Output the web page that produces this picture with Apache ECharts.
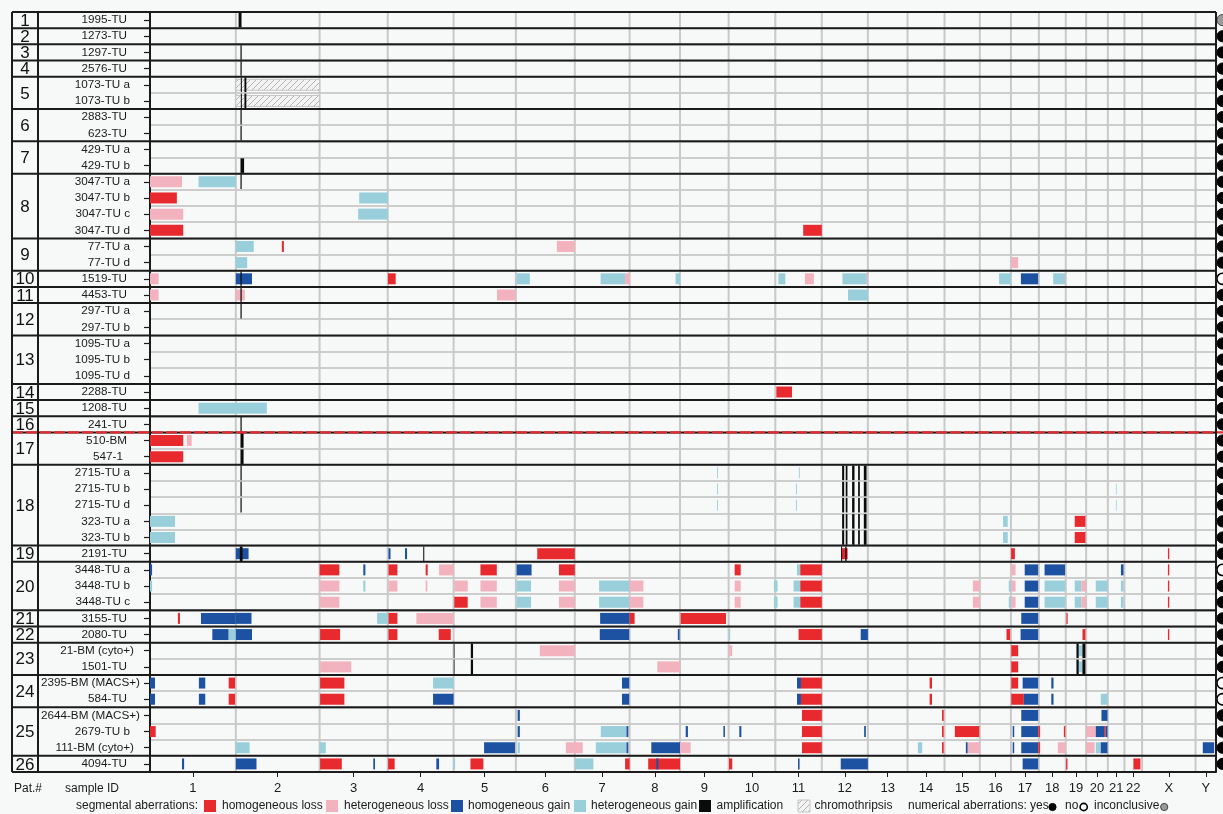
<!DOCTYPE html>
<html>
<head>
<meta charset="utf-8">
<script src="https://cdn.jsdelivr.net/npm/echarts@6/dist/echarts.min.js"></script>
<style>
  html, body { margin: 0; padding: 0; background: #f7f8f8; }
  #chart { width: 1223px; height: 814px; }
</style>
</head>
<body>
<div id="chart"></div>
<script>
// Chromosomes (hg19 lengths, Mb)
const chromNames = ['1','2','3','4','5','6','7','8','9','10','11','12','13','14','15','16','17','18','19','20','21','22','X','Y'];
const chromLengths = [249.25,243.20,198.02,191.15,180.92,171.12,159.14,146.36,141.21,135.53,135.01,133.85,115.17,107.35,102.53,90.35,81.20,78.08,59.13,63.03,48.13,51.30,155.27,59.37];

// Samples, top to bottom
const sampleIds = [
  '1995-TU','1273-TU','1297-TU','2576-TU','1073-TU a','1073-TU b','2883-TU','623-TU','429-TU a','429-TU b',
  '3047-TU a','3047-TU b','3047-TU c','3047-TU d','77-TU a','77-TU d','1519-TU','4453-TU','297-TU a','297-TU b',
  '1095-TU a','1095-TU b','1095-TU d','2288-TU','1208-TU','241-TU','510-BM','547-1',
  '2715-TU a','2715-TU b','2715-TU d','323-TU a','323-TU b','2191-TU','3448-TU a','3448-TU b','3448-TU c',
  '3155-TU','2080-TU','21-BM (cyto+)','1501-TU','2395-BM (MACS+)','584-TU','2644-BM (MACS+)','2679-TU b','111-BM (cyto+)','4094-TU'
];

// Number of samples per patient (patients 1..26)
const patientSampleCounts = [1,1,1,1,2,2,2,4,2,1,1,2,3,1,1,1,2,5,1,3,1,1,2,2,3,1];
// Red divider drawn above this patient
const dividerPatient = 17;

// Numerical aberrations: y = yes, n = no, i = inconclusive (samples not listed: yes)
const numericalStatus = {
  '1995-TU':'i', '1519-TU':'n', '3448-TU a':'n', '2395-BM (MACS+)':'n', '584-TU':'n'
};

// Segmental aberrations: [sample, chromosome, start Mb, end Mb, type]
// L homogeneous loss, l heterogeneous loss, G homogeneous gain, g heterogeneous gain, A amplification, C chromothripsis
const segments = [
  ['1995-TU','2',8,16.5,'A'],
  ['1297-TU','2',13.5,17,'A'],
  ['2576-TU','2',13.5,17,'A'],
  ['1073-TU a','2',0,243.2,'C'], ['1073-TU a','2',14.5,17.5,'A'], ['1073-TU a','2',25,30.5,'A'],
  ['1073-TU b','2',0,243.2,'C'], ['1073-TU b','2',14.5,17.5,'A'], ['1073-TU b','2',25,30.5,'A'],
  ['2883-TU','2',13.5,17,'A'],
  ['623-TU','2',13.5,17,'A'],
  ['429-TU b','2',13.5,24,'A'],

  ['3047-TU a','1',0,93,'l'], ['3047-TU a','1',141,249.25,'g'], ['3047-TU a','2',13.5,17,'A'],
  ['3047-TU b','1',0,78,'L'], ['3047-TU b','3',115,198.02,'g'],
  ['3047-TU c','1',0,96.5,'l'], ['3047-TU c','3',112,198.02,'g'],
  ['3047-TU d','1',0,96.5,'L'], ['3047-TU d','11',81,135.01,'L'],

  ['77-TU a','2',0,52,'g'], ['77-TU a','2',133.5,139.5,'L'], ['77-TU a','6',119,171.12,'l'],
  ['77-TU d','2',0,33,'g'], ['77-TU d','17',2,21,'l'],

  ['1519-TU','1',0,25,'l'], ['1519-TU','2',0,47,'G'], ['1519-TU','2',13.5,17,'A'], ['1519-TU','4',0.5,23,'L'],
  ['1519-TU','6',2,40.5,'g'], ['1519-TU','7',75,146,'g'], ['1519-TU','7',146,159.14,'l'], ['1519-TU','8',133.5,146.36,'g'],
  ['1519-TU','11',9,29,'g'], ['1519-TU','11',86,112,'l'], ['1519-TU','12',60,131,'g'], ['1519-TU','12',131,133.85,'l'],
  ['1519-TU','16',56,90.35,'g'], ['1519-TU','17',29,79,'G'], ['1519-TU','18',41.5,76.5,'g'], ['1519-TU','18',76.5,78.08,'l'],

  ['4453-TU','1',0,25,'l'], ['4453-TU','2',0,26,'l'], ['4453-TU','2',13.5,17,'A'], ['4453-TU','5',126,179,'l'],
  ['4453-TU','12',76,133.85,'g'],

  ['297-TU a','2',13.5,17,'A'],
  ['2288-TU','11',3,48.5,'L'],
  ['1208-TU','1',141,249.25,'g'], ['1208-TU','2',0,90,'g'],
  ['241-TU','2',13.5,17,'A'],

  ['510-BM','1',0,96.5,'L'], ['510-BM','1',107,121,'l'], ['510-BM','2',13.5,22.5,'A'],
  ['547-1','1',0,96.5,'L'], ['547-1','2',13.5,22.5,'A'],

  ['2715-TU a','2',13.5,17,'A'], ['2715-TU a','9',107.5,110,'g'], ['2715-TU a','11',68.5,71,'g'],
  ['2715-TU a','12',59,65,'A'], ['2715-TU a','12',69.5,74.5,'A'], ['2715-TU a','12',88,95,'A'], ['2715-TU a','12',105.5,110.5,'A'], ['2715-TU a','12',122,130,'A'],
  ['2715-TU b','2',13.5,17,'A'], ['2715-TU b','9',107.5,110,'g'], ['2715-TU b','11',60,62.5,'g'], ['2715-TU b','21',23.5,25.5,'g'],
  ['2715-TU b','12',59,65,'A'], ['2715-TU b','12',69.5,74.5,'A'], ['2715-TU b','12',88,95,'A'], ['2715-TU b','12',105.5,110.5,'A'], ['2715-TU b','12',122,130,'A'],
  ['2715-TU d','2',13.5,17,'A'], ['2715-TU d','9',107.5,110,'g'], ['2715-TU d','11',60,62.5,'g'], ['2715-TU d','21',23.5,25.5,'g'],
  ['2715-TU d','12',59,65,'A'], ['2715-TU d','12',69.5,74.5,'A'], ['2715-TU d','12',88,95,'A'], ['2715-TU d','12',105.5,110.5,'A'], ['2715-TU d','12',122,130,'A'],
  ['323-TU a','1',0,72.5,'g'], ['323-TU a','16',67.5,81,'g'], ['323-TU a','19',26,57,'L'],
  ['323-TU a','12',59,65,'A'], ['323-TU a','12',69.5,74.5,'A'], ['323-TU a','12',88,95,'A'], ['323-TU a','12',105.5,110.5,'A'], ['323-TU a','12',122,130,'A'],
  ['323-TU b','1',0,72.5,'g'], ['323-TU b','16',67.5,81,'g'], ['323-TU b','19',26,57,'L'],
  ['323-TU b','12',59,65,'A'], ['323-TU b','12',69.5,74.5,'A'], ['323-TU b','12',88,95,'A'], ['323-TU b','12',105.5,110.5,'A'], ['323-TU b','12',122,130,'A'],

  ['2191-TU','2',0,37,'G'], ['2191-TU','2',11.5,19.5,'A'], ['2191-TU','4',2,8,'G'], ['2191-TU','4',50,56,'G'],
  ['2191-TU','4',103,106,'A'], ['2191-TU','6',62,171.12,'L'], ['2191-TU','12',57,75,'L'],
  ['2191-TU','12',56,59,'A'], ['2191-TU','12',68,72,'A'], ['2191-TU','17',0.5,11.5,'L'], ['2191-TU','X',75,79,'L'],

  ['3448-TU a','1',0,6,'G'], ['3448-TU a','3',0,57.5,'L'], ['3448-TU a','3',127,133,'G'], ['3448-TU a','4',2,28,'L'],
  ['3448-TU a','4',110,116,'L'], ['3448-TU a','4',149,191.15,'l'], ['3448-TU a','5',78,125.5,'L'], ['3448-TU a','6',2,45.5,'G'],
  ['3448-TU a','6',125,171.12,'L'], ['3448-TU a','10',17.5,35,'L'], ['3448-TU a','11',63,72.5,'g'], ['3448-TU a','11',72.5,135.01,'L'],
  ['3448-TU a','17',1,13.5,'l'], ['3448-TU a','17',40,79,'G'], ['3448-TU a','18',16.5,76,'G'], ['3448-TU a','21',38,45.5,'G'],
  ['3448-TU a','X',75,79,'L'],

  ['3448-TU b','1',0,6,'g'], ['3448-TU b','3',0,57.5,'l'], ['3448-TU b','3',127,133,'g'], ['3448-TU b','4',2,28,'l'],
  ['3448-TU b','4',110,115,'l'], ['3448-TU b','5',2,41,'l'], ['3448-TU b','5',78,125.5,'l'], ['3448-TU b','6',2,44,'g'],
  ['3448-TU b','6',125,171.12,'l'], ['3448-TU b','7',70.5,159.14,'g'], ['3448-TU b','8',0,40,'l'], ['3448-TU b','10',17.5,35,'l'],
  ['3448-TU b','10',131.5,135.53,'g'], ['3448-TU b','11',0,6.5,'g'], ['3448-TU b','11',53,72.5,'g'], ['3448-TU b','11',72.5,135.01,'L'],
  ['3448-TU b','15',82.5,102.53,'l'], ['3448-TU b','16',84,90.35,'g'], ['3448-TU b','17',1,13.5,'l'], ['3448-TU b','17',40,79,'G'],
  ['3448-TU b','18',16.5,76,'g'], ['3448-TU b','19',26,45.5,'g'], ['3448-TU b','19',45.5,59.13,'l'], ['3448-TU b','20',28,62,'g'],
  ['3448-TU b','21',38,45.5,'g'], ['3448-TU b','X',75,79,'L'],

  ['3448-TU c','3',0,57.5,'l'], ['3448-TU c','5',2,41,'L'], ['3448-TU c','5',78,125.5,'l'], ['3448-TU c','6',2,44,'g'],
  ['3448-TU c','6',125,171.12,'l'], ['3448-TU c','7',70.5,159.14,'g'], ['3448-TU c','8',0,40,'l'], ['3448-TU c','10',17.5,35,'l'],
  ['3448-TU c','10',131.5,135.53,'g'], ['3448-TU c','11',0,6.5,'g'], ['3448-TU c','11',53,72.5,'g'], ['3448-TU c','11',72.5,135.01,'L'],
  ['3448-TU c','15',82.5,102.53,'l'], ['3448-TU c','16',84,90.35,'g'], ['3448-TU c','17',1,13.5,'l'], ['3448-TU c','17',40,79,'G'],
  ['3448-TU c','18',16.5,76,'g'], ['3448-TU c','19',26,45.5,'g'], ['3448-TU c','19',45.5,59.13,'l'], ['3448-TU c','20',28,62,'g'],
  ['3448-TU c','21',38,45.5,'g'], ['3448-TU c','X',75,79,'L'],

  ['3155-TU','1',81,87,'L'], ['3155-TU','1',148,249.25,'G'], ['3155-TU','2',0,45.5,'G'], ['3155-TU','3',167,198.02,'g'],
  ['3155-TU','4',2,28,'L'], ['3155-TU','4',83,191.15,'l'], ['3155-TU','7',73.5,159.14,'G'], ['3155-TU','8',0,14.5,'L'],
  ['3155-TU','9',2,133.5,'L'], ['3155-TU','17',30,79,'G'], ['3155-TU','19',2,5.5,'L'],

  ['2080-TU','1',181,228.5,'G'], ['2080-TU','1',228.5,249.25,'g'], ['2080-TU','2',0,47,'G'], ['2080-TU','3',1.5,59.5,'L'],
  ['2080-TU','4',2,28,'L'], ['2080-TU','4',148,183,'L'], ['2080-TU','7',72.5,158,'G'], ['2080-TU','8',140,145,'G'],
  ['2080-TU','10',1,4.5,'g'], ['2080-TU','11',67.5,135.01,'L'], ['2080-TU','12',113,133.85,'G'], ['2080-TU','16',77.5,88,'L'],
  ['2080-TU','17',28,79,'G'], ['2080-TU','19',48.5,57,'L'], ['2080-TU','X',75,79,'L'],

  ['21-BM (cyto+)','5',0.5,2.5,'A'], ['21-BM (cyto+)','5',50,56.5,'A'], ['21-BM (cyto+)','6',69.5,171.12,'l'],
  ['21-BM (cyto+)','10',1,10.5,'l'], ['21-BM (cyto+)','17',1,21,'L'], ['21-BM (cyto+)','19',37.5,48.3,'g'],
  ['21-BM (cyto+)','19',31,37.5,'A'], ['21-BM (cyto+)','19',48.3,57,'A'],
  ['1501-TU','5',0.5,2.5,'A'], ['1501-TU','5',50,56.5,'A'], ['1501-TU','3',1.5,92,'l'], ['1501-TU','8',80.5,146.36,'l'],
  ['1501-TU','17',1,21,'L'], ['1501-TU','19',37.5,48.3,'g'], ['1501-TU','19',31,37.5,'A'], ['1501-TU','19',48.3,57,'A'],

  ['2395-BM (MACS+)','1',0,14.5,'G'], ['2395-BM (MACS+)','1',142,160.5,'G'], ['2395-BM (MACS+)','1',228.5,247,'L'],
  ['2395-BM (MACS+)','3',1.5,72,'L'], ['2395-BM (MACS+)','4',131.5,191.15,'g'], ['2395-BM (MACS+)','7',137,158,'G'],
  ['2395-BM (MACS+)','11',63,74.5,'G'], ['2395-BM (MACS+)','11',74.5,135.01,'L'], ['2395-BM (MACS+)','14',64,71,'L'],
  ['2395-BM (MACS+)','17',1,21,'L'], ['2395-BM (MACS+)','17',34,79,'G'], ['2395-BM (MACS+)','18',36,42.5,'G'],
  ['584-TU','1',0,14.5,'G'], ['584-TU','1',142,160.5,'G'], ['584-TU','1',228.5,247,'L'], ['584-TU','3',1.5,72,'L'],
  ['584-TU','4',131.5,191.15,'G'], ['584-TU','7',137,158,'G'], ['584-TU','11',63,74.5,'G'], ['584-TU','11',74.5,135.01,'L'],
  ['584-TU','14',64,71,'L'], ['584-TU','17',1,37.5,'L'], ['584-TU','17',37.5,79,'G'], ['584-TU','18',36,42.5,'G'],
  ['584-TU','20',42.5,62,'g'],

  ['2644-BM (MACS+)','6',5,11.5,'G'], ['2644-BM (MACS+)','11',77.5,135.01,'L'], ['2644-BM (MACS+)','14',100,105,'L'],
  ['2644-BM (MACS+)','17',30,79,'G'], ['2644-BM (MACS+)','20',44.5,62,'G'],
  ['2679-TU b','1',0,16.5,'L'], ['2679-TU b','6',5,11.5,'G'], ['2679-TU b','7',75.5,150,'g'], ['2679-TU b','7',150,155.5,'G'],
  ['2679-TU b','9',16.5,23,'G'], ['2679-TU b','9',126,130.5,'G'], ['2679-TU b','10',31,37,'G'], ['2679-TU b','11',77.5,135.01,'L'],
  ['2679-TU b','12',123,128,'G'], ['2679-TU b','14',100,105,'L'], ['2679-TU b','15',30,101,'L'], ['2679-TU b','17',5,9.5,'G'],
  ['2679-TU b','17',30,79,'G'], ['2679-TU b','17',79.5,81.2,'L'], ['2679-TU b','18',0,3.5,'L'], ['2679-TU b','18',72.5,76.5,'L'],
  ['2679-TU b','20',0,28,'l'], ['2679-TU b','20',28,52,'G'], ['2679-TU b','20',52,56,'L'], ['2679-TU b','20',56,62,'G'],
  ['111-BM (cyto+)','2',0,40,'g'], ['111-BM (cyto+)','3',0.5,18,'g'], ['111-BM (cyto+)','5',88.5,178.5,'G'], ['111-BM (cyto+)','6',5,11.5,'g'],
  ['111-BM (cyto+)','6',145,171.12,'l'], ['111-BM (cyto+)','7',0,23,'l'], ['111-BM (cyto+)','7',61,150,'g'], ['111-BM (cyto+)','7',150,155.5,'G'],
  ['111-BM (cyto+)','8',63,146.36,'G'], ['111-BM (cyto+)','9',0,31,'l'], ['111-BM (cyto+)','11',77.5,135.01,'L'], ['111-BM (cyto+)','14',30,42.5,'g'],
  ['111-BM (cyto+)','14',100,105,'L'], ['111-BM (cyto+)','15',62,67.5,'G'], ['111-BM (cyto+)','15',67.5,102.53,'l'], ['111-BM (cyto+)','17',5,9.5,'G'],
  ['111-BM (cyto+)','17',30,79,'G'], ['111-BM (cyto+)','17',79.5,81.2,'L'], ['111-BM (cyto+)','18',0,3.5,'L'], ['111-BM (cyto+)','18',55,76.5,'l'],
  ['111-BM (cyto+)','20',0,24.5,'l'], ['111-BM (cyto+)','20',28,42.5,'g'], ['111-BM (cyto+)','20',42.5,62,'G'], ['111-BM (cyto+)','Y',21,54,'G'],

  ['4094-TU','1',93,99,'G'], ['4094-TU','2',0,60,'G'], ['4094-TU','3',1.5,64.5,'L'], ['4094-TU','3',156,161,'G'],
  ['4094-TU','4',1,20,'L'], ['4094-TU','4',141,149,'G'], ['4094-TU','5',0,4.5,'g'], ['4094-TU','5',49,86.5,'L'],
  ['4094-TU','7',1,54,'g'], ['4094-TU','7',146,159.14,'L'], ['4094-TU','8',54,146.36,'L'], ['4094-TU','8',77.5,83.5,'G'],
  ['4094-TU','10',1,10.5,'L'], ['4094-TU','11',66,70.5,'G'], ['4094-TU','12',55,133.85,'G'], ['4094-TU','17',34,79,'G'],
  ['4094-TU','19',1,5,'L'], ['4094-TU','22',26,46.5,'L']
];

// ---------- derived structures ----------
const FONT = '"Liberation Sans", Arial, Helvetica, sans-serif';
const COLORS = { L: '#e8292d', l: '#f2b3bf', G: '#1d52a3', g: '#98cfdb', A: '#0b0b0b' };

const chromStart = {};
let genomeLength = 0;
chromNames.forEach((c, i) => { chromStart[c] = genomeLength; genomeLength += chromLengths[i]; });
const chromCenters = chromNames.map((c, i) => chromStart[c] + chromLengths[i] / 2);
const chromBoundaries = chromNames.slice(1).map(c => [chromStart[c], 0]);

const drawOrder = { C: 0, L: 1, l: 1, G: 1, g: 1, A: 2 };
const segRecords = segments
  .map((s, i) => ({ s, i }))
  .sort((a, b) => (drawOrder[a.s[4]] - drawOrder[b.s[4]]) || (a.i - b.i))
  .map(({ s }) => ({
    type: s[4],
    value: [chromStart[s[1]] + s[2], chromStart[s[1]] + s[3], sampleIds.indexOf(s[0])]
  }));

const patientGroups = [];
{
  let row = 0;
  patientSampleCounts.forEach((n, i) => {
    patientGroups.push([row, row + n - 1, i + 1]);
    row += n;
  });
}

const statusCode = { y: 0, n: 1, i: 2 };
const numericalData = sampleIds.map((id, i) => [0, i, statusCode[numericalStatus[id] || 'y']]);
const statusStyle = [
  { fill: '#000', stroke: '#000', lineWidth: 1 },
  { fill: '#fff', stroke: '#000', lineWidth: 1.6 },
  { fill: '#9a9a9a', stroke: '#444', lineWidth: 1 }
];

function hatchCanvas() {
  const c = document.createElement('canvas');
  c.width = 6; c.height = 6;
  const g = c.getContext('2d');
  g.fillStyle = '#f3f3f3'; g.fillRect(0, 0, 6, 6);
  g.strokeStyle = '#b4b4b4'; g.lineWidth = 1;
  g.beginPath();
  g.moveTo(0, 6); g.lineTo(6, 0);
  g.moveTo(-1, 1); g.lineTo(1, -1);
  g.moveTo(5, 7); g.lineTo(7, 5);
  g.stroke();
  return c;
}
const hatchFill = { type: 'pattern', image: hatchCanvas(), repeat: 'repeat' };

function labelPad(id) {
  if (/MACS/.test(id)) return 0;
  if (/cyto/.test(id)) return 6;
  if (/ [a-d]$/.test(id)) return 10;
  if (id === '547-1') return 17;
  return 13;
}
const padRich = {};
[0, 6, 10, 13, 17].forEach(p => {
  padRich['p' + p] = { padding: [0, p, 0, 0], fontSize: 11.7, fontFamily: FONT, color: '#1a1a1a' };
});

// ---------- chart ----------
const GRID = { left: 150, top: 12, right: 7, bottom: 42 };
const chart = echarts.init(document.getElementById('chart'), null, { renderer: 'canvas' });

const legendY = 806;
const legendBoxes = [
  { x: 204, fill: COLORS.L }, { x: 326, fill: COLORS.l }, { x: 451, fill: COLORS.G },
  { x: 574, fill: COLORS.g }, { x: 699, fill: COLORS.A }, { x: 798, fill: hatchFill, stroke: '#c4c4c4' }
];
const legendTexts = [
  { x: 76, t: 'segmental aberrations:' }, { x: 222, t: 'homogeneous loss' }, { x: 344, t: 'heterogeneous loss' },
  { x: 468, t: 'homogeneous gain' }, { x: 591, t: 'heterogeneous gain' }, { x: 716.5, t: 'amplification' },
  { x: 814.5, t: 'chromothripsis' }, { x: 908, t: 'numerical aberrations: yes' }, { x: 1065, t: 'no' },
  { x: 1094, t: 'inconclusive' }
];
const legendDots = [
  { x: 1052.5, s: statusStyle[0] },
  { x: 1083.7, s: statusStyle[1] },
  { x: 1164.2, s: statusStyle[2] }
];

const graphics = [
  { type: 'line', z: 100, shape: { x1: 12, y1: 12, x2: 12, y2: 772 }, style: { stroke: '#1b1b1b', lineWidth: 2 } },
  { type: 'line', z: 100, shape: { x1: 38, y1: 12, x2: 38, y2: 772 }, style: { stroke: '#1b1b1b', lineWidth: 2 } },
  { type: 'line', z: 100, shape: { x1: 1216, y1: 12, x2: 1216, y2: 772 }, style: { stroke: '#1b1b1b', lineWidth: 2 } },
  { type: 'text', z: 100, style: { text: 'Pat.#', x: 14, y: 789, font: '12px ' + FONT, fill: '#1a1a1a', verticalAlign: 'middle' } },
  { type: 'text', z: 100, style: { text: 'sample ID', x: 65, y: 789, font: '12px ' + FONT, fill: '#1a1a1a', verticalAlign: 'middle' } }
];
legendBoxes.forEach(b => graphics.push({
  type: 'rect', z: 100, shape: { x: b.x, y: legendY - 6, width: 12, height: 12 },
  style: { fill: b.fill, stroke: b.stroke || null, lineWidth: 1 }
}));
legendTexts.forEach(t => graphics.push({
  type: 'text', z: 100, style: { text: t.t, x: t.x, y: legendY, font: '12px ' + FONT, fill: '#1a1a1a', verticalAlign: 'middle' }
}));
legendDots.forEach(d => graphics.push({
  type: 'circle', z: 100, shape: { cx: d.x, cy: legendY + 1, r: 3.6 },
  style: Object.assign({}, d.s)
}));

chart.setOption({
  animation: false,
  backgroundColor: '#f7f8f8',
  grid: { left: GRID.left, top: GRID.top, right: GRID.right, bottom: GRID.bottom, show: false },
  xAxis: {
    type: 'value', min: 0, max: genomeLength,
    splitLine: { show: false },
    axisLine: { show: true, onZero: false, lineStyle: { color: '#1b1b1b', width: 2 } },
    axisTick: { show: true, customValues: chromCenters, length: 5, lineStyle: { color: '#1b1b1b', width: 1 } },
    axisLabel: {
      show: true, customValues: chromCenters, margin: 10, fontSize: 13, fontFamily: FONT, color: '#1a1a1a',
      formatter: v => {
        let best = 0;
        chromCenters.forEach((c, i) => { if (Math.abs(c - v) < Math.abs(chromCenters[best] - v)) best = i; });
        return chromNames[best];
      }
    }
  },
  yAxis: {
    type: 'category', data: sampleIds, inverse: true,
    axisLine: { show: true, lineStyle: { color: '#1b1b1b', width: 2 } },
    axisTick: { show: true, alignWithLabel: true, interval: 0, length: 6, lineStyle: { color: '#1b1b1b', width: 1.2 } },
    axisLabel: {
      interval: 0, margin: 10,
      formatter: v => '{p' + labelPad(v) + '|' + v + '}',
      rich: padRich
    },
    splitLine: { show: true, interval: 0, lineStyle: { color: '#cdcdcd', width: 2 } }
  },
  graphic: graphics,
  series: [
    {
      // chromosome boundaries
      type: 'custom', silent: true, z: 1,
      data: chromBoundaries,
      encode: { x: 0, y: 1 },
      renderItem: (params, api) => {
        const x = api.coord([api.value(0), 0])[0];
        const cs = params.coordSys;
        return { type: 'line', shape: { x1: x, y1: cs.y, x2: x, y2: cs.y + cs.height },
                 style: { stroke: '#c9c9c9', lineWidth: 2 } };
      }
    },
    {
      // segmental aberrations
      type: 'custom', silent: true, z: 3,
      data: segRecords.map(r => r.value),
      encode: { x: [0, 1], y: 2 },
      renderItem: (params, api) => {
        const rec = segRecords[params.dataIndex];
        const row = api.value(2);
        const p0 = api.coord([api.value(0), row]);
        const p1 = api.coord([api.value(1), row]);
        const band = api.size([0, 1])[1];
        const h = band * (rec.type === 'A' ? 0.9 : 0.68);
        const w = Math.max(p1[0] - p0[0], 0.7);
        const isC = rec.type === 'C';
        return {
          type: 'rect',
          shape: { x: p0[0], y: p0[1] - h / 2, width: w, height: h },
          style: { fill: isC ? hatchFill : COLORS[rec.type], stroke: isC ? '#c4c4c4' : null, lineWidth: 1 }
        };
      }
    },
    {
      // patient groups: numbers, separators and divider
      type: 'custom', silent: true, z: 5, clip: false,
      data: patientGroups,
      encode: { x: -1, y: -1 },
      renderItem: (params, api) => {
        const first = api.value(0), last = api.value(1), num = api.value(2);
        const band = api.size([0, 1])[1];
        const yTop = api.coord([0, first])[1] - band / 2;
        const yBot = api.coord([0, last])[1] + band / 2;
        const cs = params.coordSys;
        const right = cs.x + cs.width;
        const children = [
          { type: 'line', shape: { x1: 12, y1: yTop, x2: right, y2: yTop }, style: { stroke: '#1b1b1b', lineWidth: 2 } },
          { type: 'text', style: { text: String(num), x: 25, y: (yTop + yBot) / 2 + 1, align: 'center', verticalAlign: 'middle',
                                   font: '17px ' + FONT, fill: '#111' } }
        ];
        if (num === patientSampleCounts.length) {
          children.push({ type: 'line', shape: { x1: 12, y1: yBot, x2: right, y2: yBot }, style: { stroke: '#1b1b1b', lineWidth: 2 } });
        }
        if (num === dividerPatient) {
          children.push({ type: 'line', shape: { x1: 12, y1: yTop, x2: 1223, y2: yTop },
                          style: { stroke: '#e8292d', lineWidth: 2.2, lineDash: [11, 3] } });
        }
        return { type: 'group', children };
      }
    },
    {
      // numerical aberrations, one circle per sample beyond the right edge
      type: 'custom', silent: true, z: 6, clip: false,
      data: numericalData,
      encode: { x: 0, y: 1 },
      renderItem: (params, api) => {
        const y = api.coord([0, api.value(1)])[1];
        const cs = params.coordSys;
        return {
          type: 'circle',
          shape: { cx: cs.x + cs.width + 6.5, cy: y, r: 5.6 },
          style: Object.assign({}, statusStyle[api.value(2)])
        };
      }
    }
  ]
});
</script>
</body>
</html>
